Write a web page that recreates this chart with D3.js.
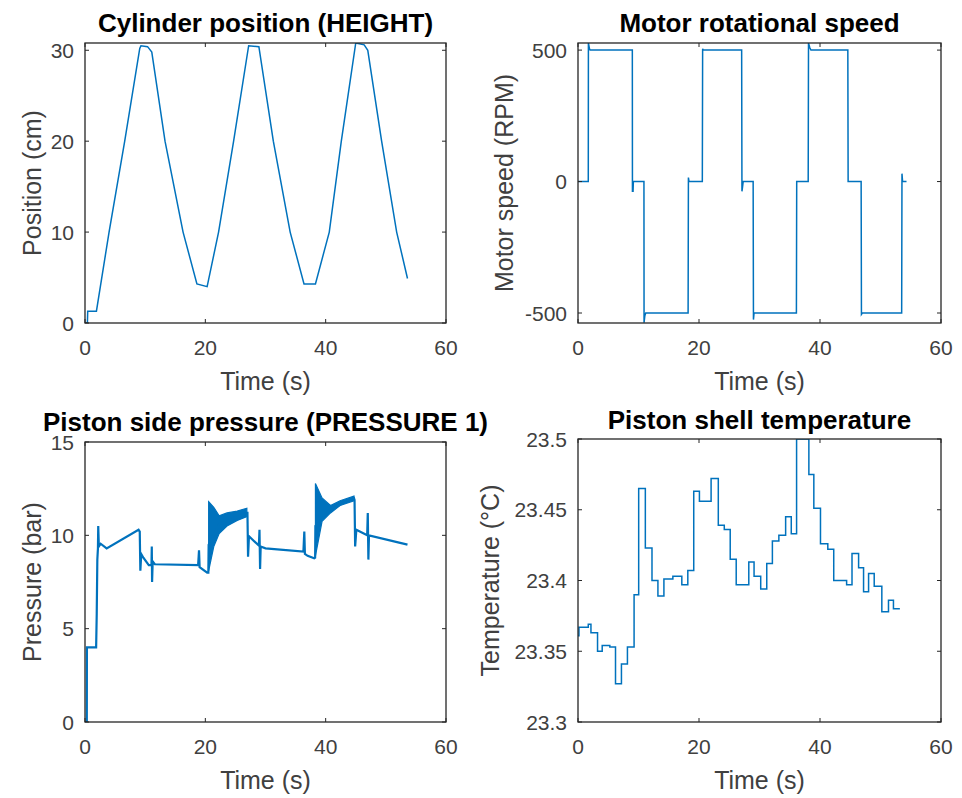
<!DOCTYPE html>
<html>
<head>
<meta charset="utf-8">
<script src="https://cdn.jsdelivr.net/npm/d3@7"></script>
<style>
  body { margin: 0; background: #fff; }
  svg { display: block; font-family: "Liberation Sans", Arial, Helvetica, sans-serif; }
</style>
</head>
<body>
<div id="chart"></div>
<script>
// ---- data ----
const xTicks = [0, 20, 40, 60];

// Cylinder position (cm)
const posTime = [0, 0.4, 0.45, 1.9, 4.0, 6.6, 9.1, 9.3, 10.4, 11.1, 13.3, 16.3, 18.6, 20.3, 22.2, 24.7, 27.2, 28.9, 31.3, 34.1, 36.4, 38.3, 40.6, 42.6, 45.0, 46.4, 47.0, 49.3, 51.8, 53.6];
const posValue = [0, 0, 1.3, 1.3, 10, 20, 30.2, 30.5, 30.4, 29.8, 20, 10, 4.3, 4.0, 10, 20, 30.5, 30.4, 20, 10, 4.3, 4.3, 10, 20, 30.8, 30.6, 30.0, 20, 10, 4.9];
const posTicks = [0, 10, 20, 30];

// Motor speed (RPM)
const rpmTime = [0, 1.7, 1.72, 1.9, 2.0, 8.98, 9.0, 9.1, 9.15, 10.9, 10.92, 11.05, 11.2, 18.2, 18.25, 18.35, 20.55, 20.6, 20.7, 27.05, 27.1, 27.2, 27.3, 28.95, 29.0, 29.1, 36.1, 36.15, 38.05, 38.1, 38.3, 38.5, 44.6, 44.65, 46.8, 46.85, 47.0, 53.5, 53.55, 53.65, 54.3];
const rpmValue = [0, 0, 527, 505, 500, 500, -37, -37, 0, 0, -537, -510, -500, -500, 15, 0, 0, 505, 500, 500, -37, -20, 0, 0, -525, -500, -500, 0, 0, 527, 510, 500, 500, 0, 0, -505, -500, -500, 30, 0, 0];
const rpmTicks = [-500, 0, 500];

// Piston side pressure (bar)
const presTime = [0, 0.3, 0.32, 1.85, 1.95, 2.05, 2.15, 2.2, 2.3, 2.6, 3.6, 8.9, 9.1, 9.2, 9.35, 9.7, 10.6, 11.05, 11.1, 11.15, 11.25, 11.6, 18.8, 18.95, 19.05, 20.3, 20.5, 20.55, 22.3, 26.9, 27.0, 27.1, 27.25, 28.9, 29.0, 29.1, 29.2, 30.0, 36.3, 36.45, 36.55, 37.0, 38.1, 38.25, 38.3, 40.8, 44.7, 44.8, 44.9, 45.1, 46.9, 47.0, 47.1, 47.2, 53.6];
const presValue = [0, 0, 4.0, 4.0, 5.8, 8.7, 9.3, 10.5, 9.4, 9.55, 9.3, 10.3, 10.2, 8.1, 9.0, 8.8, 8.4, 8.4, 9.4, 7.5, 8.6, 8.45, 8.4, 9.2, 8.3, 8.0, 8.0, 9.5, 10.6, 11.2, 11.2, 8.85, 9.95, 9.45, 10.3, 8.2, 9.4, 9.3, 9.13, 10.2, 9.0, 8.9, 8.77, 8.8, 10.5, 11.4, 12.0, 11.9, 9.4, 10.3, 10.0, 11.2, 8.7, 10.0, 9.5];
// oscillation bands (upper / lower envelope)
const band1Time = [20.55, 21.4, 22.3, 23.6, 25.3, 26.9];
const band1High = [11.8, 11.5, 11.05, 11.2, 11.3, 11.45];
const band1Low = [8.1, 9.4, 10.1, 10.5, 10.8, 11.0];
const band2Time = [38.3, 39.4, 40.8, 42.4, 44.7];
const band2High = [12.78, 12.0, 11.6, 11.85, 12.1];
const band2Low = [8.9, 10.75, 11.2, 11.6, 11.85];
const presTicks = [0, 5, 10, 15];

// Piston shell temperature (degC), step changes
const tempTime = [0, 0.16, 1.7, 2.14, 3.23, 4.0, 5.26, 6.2, 7.18, 8.17, 9.27, 10.03, 11.13, 12.23, 13.21, 14.2, 15.68, 17.16, 18.15, 19.13, 20.07, 22.0, 23.19, 24.18, 25.16, 26.15, 28.23, 29.1, 30.2, 31.2, 32.13, 33.2, 34.32, 35.25, 36.13, 38.16, 38.98, 40.08, 41.29, 42.27, 44.4, 45.29, 46.38, 47.2, 48.03, 48.96, 50.22, 51.32, 52.14, 53.2];
const tempValue = [23.361, 23.367, 23.369, 23.363, 23.350, 23.354, 23.353, 23.327, 23.341, 23.353, 23.390, 23.465, 23.423, 23.400, 23.389, 23.401, 23.403, 23.397, 23.407, 23.463, 23.456, 23.472, 23.439, 23.436, 23.415, 23.397, 23.413, 23.403, 23.394, 23.412, 23.428, 23.432, 23.445, 23.433, 23.5, 23.475, 23.451, 23.426, 23.422, 23.400, 23.397, 23.419, 23.409, 23.392, 23.405, 23.396, 23.378, 23.386, 23.380, 23.380];
const tempTicks = [23.3, 23.35, 23.4, 23.45, 23.5];

// ---- drawing ----
const lineColor = "#0072BD";
const axisColor = "#262626";
const tickColor = "#404040";

const svg = d3.select("#chart").append("svg")
  .attr("width", 962)
  .attr("height", 798);

svg.append("rect").attr("width", 962).attr("height", 798).attr("fill", "#fff");

const zip = (t, v) => t.map((d, i) => ({ t: d, v: v[i] }));

function panel(cfg) {
  const x = d3.scaleLinear().domain([0, 60]).range([cfg.left, cfg.right]);
  const y = d3.scaleLinear().domain(cfg.yDomain).range([cfg.bottom, cfg.top]);
  const g = svg.append("g");

  const clipId = "clip" + cfg.id;
  svg.append("clipPath").attr("id", clipId)
    .append("rect")
    .attr("x", cfg.left).attr("y", cfg.top)
    .attr("width", cfg.right - cfg.left).attr("height", cfg.bottom - cfg.top);

  const plot = g.append("g").attr("clip-path", `url(#${clipId})`);

  // box + ticks (inside, MATLAB style)
  g.append("rect")
    .attr("x", cfg.left).attr("y", cfg.top)
    .attr("width", cfg.right - cfg.left).attr("height", cfg.bottom - cfg.top)
    .attr("fill", "none").attr("stroke", axisColor).attr("stroke-width", 1.3);

  const tl = 4;
  xTicks.forEach(t => {
    g.append("line").attr("x1", x(t)).attr("x2", x(t))
      .attr("y1", cfg.bottom).attr("y2", cfg.bottom - tl)
      .attr("stroke", axisColor);
    g.append("line").attr("x1", x(t)).attr("x2", x(t))
      .attr("y1", cfg.top).attr("y2", cfg.top + tl)
      .attr("stroke", axisColor);
    g.append("text").attr("x", x(t)).attr("y", cfg.bottom + 32)
      .attr("text-anchor", "middle").attr("font-size", 21).attr("fill", tickColor)
      .text(t);
  });
  cfg.yTicks.forEach(v => {
    g.append("line").attr("x1", cfg.left).attr("x2", cfg.left + tl)
      .attr("y1", y(v)).attr("y2", y(v)).attr("stroke", axisColor);
    g.append("line").attr("x1", cfg.right).attr("x2", cfg.right - tl)
      .attr("y1", y(v)).attr("y2", y(v)).attr("stroke", axisColor);
    g.append("text").attr("x", cfg.left - 11).attr("y", y(v)).attr("dy", "0.36em")
      .attr("text-anchor", "end").attr("font-size", 21).attr("fill", tickColor)
      .text(cfg.fmt ? cfg.fmt(v) : v);
  });

  // labels
  g.append("text").attr("x", (cfg.left + cfg.right) / 2).attr("y", cfg.titleY)
    .attr("text-anchor", "middle").attr("font-size", 26).attr("font-weight", "bold")
    .attr("fill", "#000").text(cfg.title);
  g.append("text").attr("x", (cfg.left + cfg.right) / 2).attr("y", cfg.bottom + 67)
    .attr("text-anchor", "middle").attr("font-size", 25).attr("fill", tickColor)
    .text("Time (s)");
  g.append("text")
    .attr("transform", `translate(${cfg.yLabelX},${(cfg.top + cfg.bottom) / 2}) rotate(-90)`)
    .attr("text-anchor", "middle").attr("font-size", 25).attr("fill", tickColor)
    .text(cfg.yLabel);

  return { x, y, plot };
}

// Cylinder position
{
  const p = panel({ id: 1, left: 85, right: 446, top: 43, bottom: 323, yDomain: [0, 30.8],
    yTicks: posTicks, title: "Cylinder position (HEIGHT)", titleY: 32,
    yLabel: "Position (cm)", yLabelX: 41 });
  p.plot.append("path")
    .datum(zip(posTime, posValue))
    .attr("fill", "none").attr("stroke", lineColor).attr("stroke-width", 1.5)
    .attr("d", d3.line().x(d => p.x(d.t)).y(d => p.y(d.v)));
}

// Motor speed
{
  const p = panel({ id: 2, left: 578, right: 941, top: 43, bottom: 323, yDomain: [-538, 527],
    yTicks: rpmTicks, title: "Motor rotational speed", titleY: 32,
    yLabel: "Motor speed (RPM)", yLabelX: 513 });
  p.plot.append("path")
    .datum(zip(rpmTime, rpmValue))
    .attr("fill", "none").attr("stroke", lineColor).attr("stroke-width", 1.5)
    .attr("d", d3.line().x(d => p.x(d.t)).y(d => p.y(d.v)));
}

// Pressure
{
  const p = panel({ id: 3, left: 85, right: 446, top: 442, bottom: 722, yDomain: [0, 15],
    yTicks: presTicks, title: "Piston side pressure (PRESSURE 1)", titleY: 431,
    yLabel: "Pressure (bar)", yLabelX: 41 });
  const area = d3.area().x(d => p.x(d.t)).y0(d => p.y(d.lo)).y1(d => p.y(d.hi));
  [[band1Time, band1High, band1Low], [band2Time, band2High, band2Low]].forEach(([t, hi, lo]) => {
    p.plot.append("path")
      .datum(t.map((d, i) => ({ t: d, hi: hi[i], lo: lo[i] })))
      .attr("fill", lineColor).attr("stroke", lineColor).attr("stroke-width", 1.2)
      .attr("d", area);
  });
  p.plot.append("path")
    .datum(zip(presTime, presValue))
    .attr("fill", "none").attr("stroke", lineColor).attr("stroke-width", 2.2)
    .attr("d", d3.line().x(d => p.x(d.t)).y(d => p.y(d.v)));
}

// Temperature
{
  const p = panel({ id: 4, left: 578, right: 941, top: 439, bottom: 722, yDomain: [23.3, 23.5],
    yTicks: tempTicks, fmt: d3.format("~g"), title: "Piston shell temperature", titleY: 429,
    yLabel: "Temperature (°C)", yLabelX: 499 });
  p.plot.append("path")
    .datum(zip(tempTime, tempValue))
    .attr("fill", "none").attr("stroke", lineColor).attr("stroke-width", 1.5)
    .attr("d", d3.line().curve(d3.curveStepAfter).x(d => p.x(d.t)).y(d => p.y(d.v)));
}
</script>
</body>
</html>
